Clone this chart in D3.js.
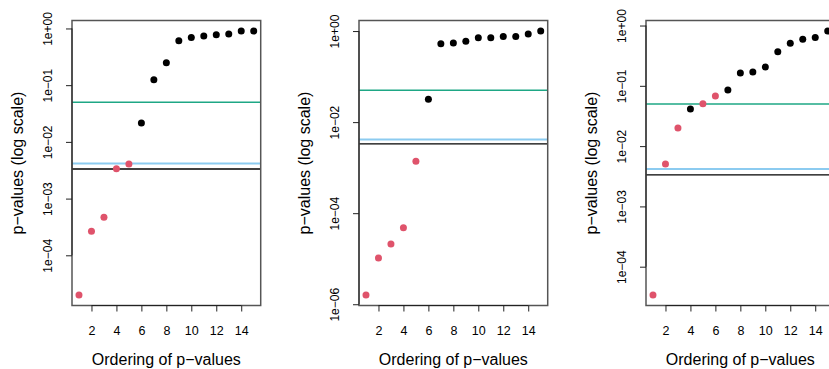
<!DOCTYPE html>
<html>
<head>
<meta charset="utf-8">
<script src="https://cdn.jsdelivr.net/npm/d3@7"></script>
<style>
  html, body { margin: 0; padding: 0; background: #fff; }
  svg { display: block; }
  text { font-family: "Liberation Sans", Arial, Helvetica, sans-serif; fill: #000; }
</style>
</head>
<body>
<svg id="chart" width="829" height="369"></svg>
<script>
// ---- data ----
const ranks = d3.range(1, 16);
const pvals1 = [2.0e-5, 2.65e-4, 4.7e-4, 3.37e-3, 4.07e-3, 0.0215, 0.125, 0.249, 0.607, 0.695, 0.74, 0.774, 0.797, 0.90, 0.90];
const sig1   = [1, 1, 1, 1, 1, 0, 0, 0, 0, 0, 0, 0, 0, 0, 0];
const pvals2 = [1.6e-6, 1.03e-5, 2.1e-5, 4.8e-5, 1.39e-3, 0.0318, 0.527, 0.546, 0.594, 0.713, 0.713, 0.764, 0.764, 0.86, 1.0];
const sig2   = [1, 1, 1, 1, 1, 0, 0, 0, 0, 0, 0, 0, 0, 0, 0];
const pvals3 = [3.4e-5, 5.07e-3, 0.020, 0.0413, 0.0506, 0.0678, 0.085, 0.163, 0.169, 0.205, 0.367, 0.51, 0.594, 0.633, 0.81];
const sig3   = [1, 1, 1, 0, 1, 1, 0, 0, 0, 0, 0, 0, 0, 0, 0];
const thresholds = [0.05, 0.05 / 12, 0.05 / 15];
const thresholdColors = ["#1ea785", "#8ccbf0", "#000000"];
const xTicks = [2, 4, 6, 8, 10, 12, 14];
const yTicks1 = [1e-4, 1e-3, 1e-2, 1e-1, 1];
const yTicks2 = [1e-6, 1e-4, 1e-2, 1];
const yTicks3 = [1e-4, 1e-3, 1e-2, 1e-1, 1];
const xTitle = "Ordering of p\u2212values";
const yTitle = "p\u2212values (log scale)";

const panels = [
  { p: pvals1, s: sig1, yt: yTicks1 },
  { p: pvals2, s: sig2, yt: yTicks2 },
  { p: pvals3, s: sig3, yt: yTicks3 }
];

const svg = d3.select("#chart");
const panelW = 287;
const plotL = 72, plotW = 188.7, plotT = 20.5, plotB = 305.5;

function fmtExp(v) {
  const e = Math.round(Math.log10(v));
  const sign = e < 0 ? "\u2212" : "+";
  return "1e" + sign + String(Math.abs(e)).padStart(2, "0");
}

panels.forEach((pan, i) => {
  const g = svg.append("g").attr("transform", `translate(${i * panelW},0)`);

  // R-style 4% extension
  const x = d3.scaleLinear().domain([1 - 0.56, 15 + 0.56]).range([plotL, plotL + plotW]);
  const lmin = Math.log10(d3.min(pan.p)), lmax = Math.log10(d3.max(pan.p));
  const ext = (lmax - lmin) * 0.04;
  const y = d3.scaleLog().domain([Math.pow(10, lmin - ext), Math.pow(10, lmax + ext)]).range([plotB, plotT]);

  // threshold lines
  thresholds.forEach((t, k) => {
    g.append("line")
      .attr("x1", plotL).attr("x2", plotL + plotW)
      .attr("y1", y(t)).attr("y2", y(t))
      .attr("stroke", thresholdColors[k])
      .attr("stroke-width", k === 1 ? 2 : 1.4);
  });

  // points
  g.selectAll("circle.pt").data(ranks).enter().append("circle")
    .attr("class", "pt")
    .attr("cx", d => x(d))
    .attr("cy", (d, j) => y(pan.p[j]))
    .attr("r", 3.5)
    .attr("fill", (d, j) => pan.s[j] ? "#df536b" : "#000");

  // box
  g.append("rect")
    .attr("x", plotL).attr("y", plotT)
    .attr("width", plotW).attr("height", plotB - plotT)
    .attr("fill", "none").attr("stroke", "#555").attr("stroke-width", 1.5);

  // x axis
  const xa = d3.axisBottom(x).tickValues(xTicks).tickSize(6).tickPadding(15).tickFormat(d3.format("d"));
  const gx = g.append("g").attr("transform", `translate(0,${plotB})`).call(xa);
  gx.select(".domain").attr("d", `M${x(xTicks[0])},0H${x(xTicks[xTicks.length - 1])}`).attr("stroke", "#222");
  gx.selectAll(".tick line").attr("stroke", "#222");
  gx.selectAll(".tick text").attr("font-size", 12.5).attr("font-family", "Liberation Sans, Arial, sans-serif");

  // y axis
  const ya = d3.axisLeft(y).tickValues(pan.yt).tickSize(6).tickFormat(fmtExp);
  const gy = g.append("g").attr("transform", `translate(${plotL},0)`).call(ya);
  const yt = pan.yt;
  gy.select(".domain").attr("d", `M0,${y(yt[0])}V${y(yt[yt.length - 1])}`).attr("stroke", "#222");
  gy.selectAll(".tick line").attr("stroke", "#222");
  gy.selectAll(".tick text")
    .attr("font-size", 12)
    .attr("font-family", "Liberation Sans, Arial, sans-serif")
    .attr("x", null).attr("dy", null)
    .attr("text-anchor", "middle")
    .attr("transform", "translate(-20,0) rotate(-90)");

  // titles
  g.append("text")
    .attr("x", plotL + plotW / 2).attr("y", 365)
    .attr("text-anchor", "middle").attr("font-size", 16)
    .text(xTitle);
  g.append("text")
    .attr("transform", `translate(${plotL - 49},${(plotT + plotB) / 2}) rotate(-90)`)
    .attr("text-anchor", "middle").attr("font-size", 16)
    .text(yTitle);
});
</script>
</body>
</html>
